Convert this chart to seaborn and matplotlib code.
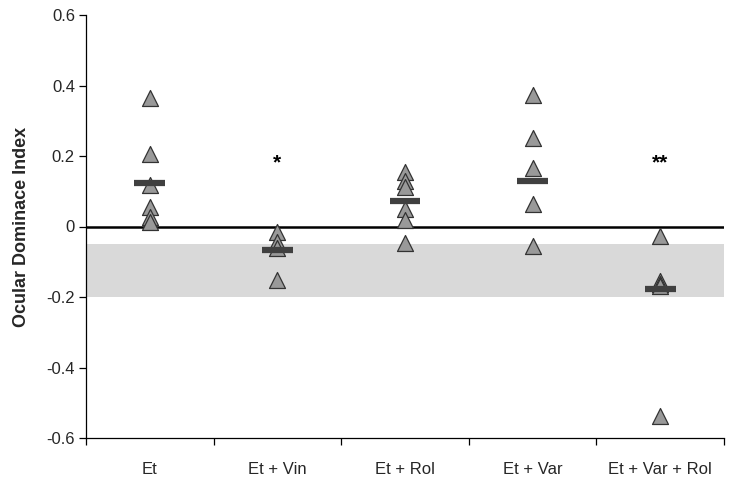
import matplotlib
matplotlib.use("Agg")
import matplotlib.pyplot as plt
import seaborn as sns
import pandas as pd
import numpy as np

categories = ["Et", "Et + Vin", "Et + Rol", "Et + Var", "Et + Var + Rol"]
et = [0.365, 0.207, 0.117, 0.054, 0.026, 0.012]
et_vin = [-0.015, -0.045, -0.06, -0.152]
et_rol = [0.155, 0.13, 0.112, 0.05, 0.018, -0.048]
et_var = [0.372, 0.25, 0.165, 0.065, -0.054]
et_var_rol = [-0.026, -0.154, -0.163, -0.17, -0.537]
means = [0.123, -0.068, 0.071, 0.128, -0.177]
stars = ["", "*", "", "", "**"]
star_y = 0.18
band = (-0.2, -0.05)
yticks = [-0.6, -0.4, -0.2, 0, 0.2, 0.4, 0.6]
ytick_labels = ["-0.6", "-0.4", "-0.2", "0", "0.2", "0.4", "0.6"]

groups = [et, et_vin, et_rol, et_var, et_var_rol]
df = pd.DataFrame({
    "group": [c for c, g in zip(categories, groups) for _ in g],
    "odi": [v for g in groups for v in g],
})

sns.set_style("white")
plt.rcParams["font.family"] = ["Liberation Sans", "DejaVu Sans"]

fig = plt.figure(figsize=(7.29, 4.78), dpi=100)
ax = fig.add_axes([86 / 729, 40 / 478, (724 - 86) / 729, (463 - 40) / 478])

ax.axhspan(band[0], band[1], color="#d9d9d9", lw=0, zorder=0)
ax.axhline(0, color="black", lw=1.8, zorder=1)

sns.stripplot(data=df, x="group", y="odi", order=categories, jitter=False,
              marker="^", s=11.5, color="#999999", edgecolor="#333333",
              linewidth=0.9, ax=ax, zorder=3)

xpos = np.arange(len(categories))
ax.hlines(means, xpos - 0.12, xpos + 0.12, color="#404040", lw=4.5, zorder=4)

for x, s in zip(xpos, stars):
    if s:
        ax.text(x, star_y, s, ha="center", va="center", fontsize=15,
                fontweight="bold", color="black")

ax.set_xlim(-0.5, len(categories) - 0.5)
ax.set_ylim(-0.6, 0.6)
ax.set_yticks(yticks)
ax.set_yticklabels(ytick_labels, fontsize=12)
ax.set_xticks(np.arange(len(categories) + 1) - 0.5)
ax.set_xticklabels([])
ax.set_xticks(xpos, minor=True)
ax.set_xticklabels(categories, minor=True, fontsize=12)
ax.tick_params(axis="x", which="minor", bottom=True, length=0, pad=17)
ax.tick_params(axis="x", which="major", bottom=True, length=5, width=0.9,
               direction="out", color="black")
ax.tick_params(axis="y", left=True, length=5, width=0.9, direction="out",
               color="black", pad=3)
ax.set_xlabel("")
ax.set_ylabel("Ocular Dominace Index", fontsize=13, fontweight="bold", labelpad=12)

for side in ["top", "right"]:
    ax.spines[side].set_visible(False)
for side in ["left", "bottom"]:
    ax.spines[side].set_color("black")
    ax.spines[side].set_linewidth(0.9)

fig.savefig("out.png", dpi=100)
